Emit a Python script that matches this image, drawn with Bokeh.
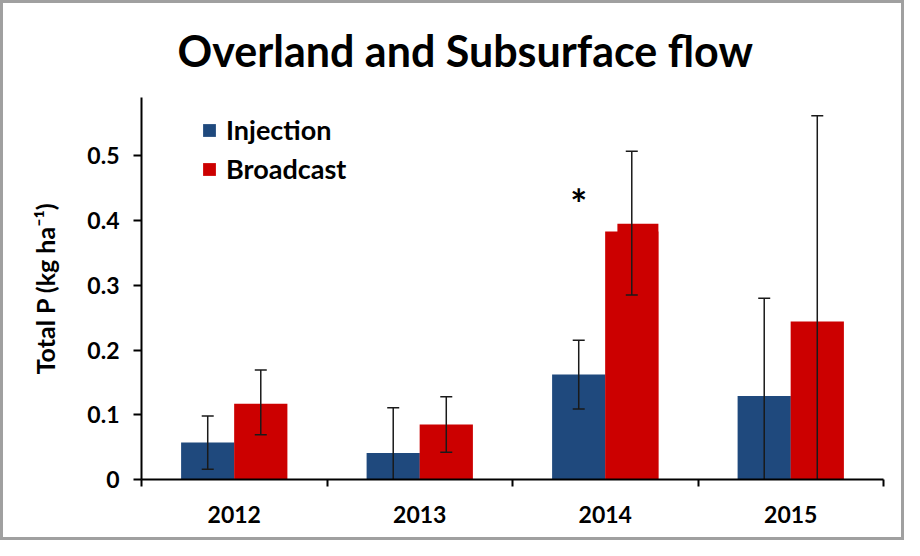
import numpy as np
from bokeh.plotting import figure
from bokeh.models import ColumnDataSource, FixedTicker, Legend, LegendItem, Range1d
from bokeh.core.properties import value
from bokeh.embed import file_html
from bokeh.resources import INLINE

# ---- data ----
years = ["2012", "2013", "2014", "2015"]
injection = [0.057, 0.041, 0.162, 0.129]
injection_lo = [0.016, -0.029, 0.109, -0.023]
injection_hi = [0.098, 0.111, 0.215, 0.280]
broadcast = [0.117, 0.085, 0.383, 0.244]
broadcast_lo = [0.069, 0.042, 0.285, -0.074]
broadcast_hi = [0.169, 0.128, 0.507, 0.562]
broadcast_2014_step = 0.395
asterisk_year = "2014"
asterisk_y = 0.425
yticks = [0, 0.1, 0.2, 0.3, 0.4, 0.5]
ytick_labels = ["0", "0.1", "0.2", "0.3", "0.4", "0.5"]

FONT = "Lato"
BLUE = "#1F497D"
RED = "#CC0000"

n = len(years)
centers = np.arange(n) + 0.5
off = 0.143
bw = 0.287

src_i = ColumnDataSource(dict(x=centers - off, top=injection, lo=injection_lo, hi=injection_hi))
src_b = ColumnDataSource(dict(x=centers + off, top=broadcast, lo=broadcast_lo, hi=broadcast_hi))
k = years.index("2014")
src_step = ColumnDataSource(dict(x=[centers[k] + off + 0.033], top=[broadcast_2014_step]))

p = figure(width=904, height=540, output_backend="svg", toolbar_location=None,
           x_range=Range1d(0, n), y_range=Range1d(0, 0.59),
           min_border_left=138, min_border_right=24, min_border_top=94, min_border_bottom=64)
p.styles = {"border": "3px solid #a0a0a0", "box-sizing": "border-box"}

p.title.text = "Overland and Subsurface flow"
p.title.text_font = FONT
p.title.text_font_size = "43px"
p.title.text_font_style = "bold"
p.title.text_color = "black"
p.title.vertical_align = "top"
p.title.align = "left"
p.title.offset = 36
p.title.standoff = 40

p.grid.visible = False
p.outline_line_color = None

ri = p.vbar(x="x", top="top", width=bw, source=src_i, fill_color=BLUE, line_color=None)
rb = p.vbar(x="x", top="top", width=bw, source=src_b, fill_color=RED, line_color=None)
p.vbar(x="x", top="top", width=bw - 0.066, source=src_step, fill_color=RED, line_color=None)

for s in (src_i, src_b):
    p.segment(x0="x", y0="lo", x1="x", y1="hi", source=s, line_color="#1a1a1a", line_width=1.5)
    p.scatter(x="x", y="lo", source=s, marker="dash", size=12, line_color="#1a1a1a", line_width=1.5)
    p.scatter(x="x", y="hi", source=s, marker="dash", size=12, line_color="#1a1a1a", line_width=1.5)

p.text(x=[centers[years.index(asterisk_year)] - off], y=[asterisk_y], text=["*"],
       text_font=value(FONT), text_font_size="40px", text_font_style="bold",
       text_align="center", text_baseline="middle", text_color="black")

# x axis: labels at centres, ticks at category boundaries
xa = p.xaxis[0]
xa.ticker = FixedTicker(ticks=list(centers), minor_ticks=list(np.arange(n + 1)))
xa.major_label_overrides = {float(c): y for c, y in zip(centers, years)}
xa.major_tick_line_color = None
xa.major_tick_out = 0
xa.major_tick_in = 0
xa.minor_tick_out = 7
xa.minor_tick_in = 0
xa.minor_tick_line_color = "black"
xa.minor_tick_line_width = 2
xa.major_label_standoff = 19
xa.axis_line_width = 2
xa.axis_line_color = "black"
xa.major_label_text_font = FONT
xa.major_label_text_font_size = "23px"
xa.major_label_text_font_style = "bold"
xa.major_label_text_color = "black"

ya = p.yaxis[0]
ya.ticker = FixedTicker(ticks=yticks, minor_ticks=[])
ya.major_label_overrides = {t: l for t, l in zip(yticks, ytick_labels)}
ya.major_tick_out = 8
ya.major_tick_in = 0
ya.major_tick_line_width = 2
ya.major_tick_line_color = "black"
ya.axis_line_width = 2
ya.axis_line_color = "black"
ya.major_label_standoff = 14
ya.major_label_text_font = FONT
ya.major_label_text_font_size = "23px"
ya.major_label_text_font_style = "bold"
ya.major_label_text_color = "black"
ya.axis_label = "Total P (kg ha\u207b\u00b9)"
ya.axis_label_text_font = FONT
ya.axis_label_text_font_size = "25px"
ya.axis_label_text_font_style = "bold"
ya.axis_label_text_color = "black"
ya.axis_label_standoff = 24

legend = Legend(items=[LegendItem(label="Injection", renderers=[ri]),
                       LegendItem(label="Broadcast", renderers=[rb])],
                location=(60, 294), padding=0, margin=0, spacing=6,
                glyph_width=16, glyph_height=16, label_height=32, label_standoff=9,
                border_line_color=None, background_fill_alpha=0,
                label_text_font=FONT, label_text_font_size="27px",
                label_text_font_style="bold", label_text_color="black")
p.add_layout(legend, "center")

open("out.html", "w").write(file_html(p, INLINE))
